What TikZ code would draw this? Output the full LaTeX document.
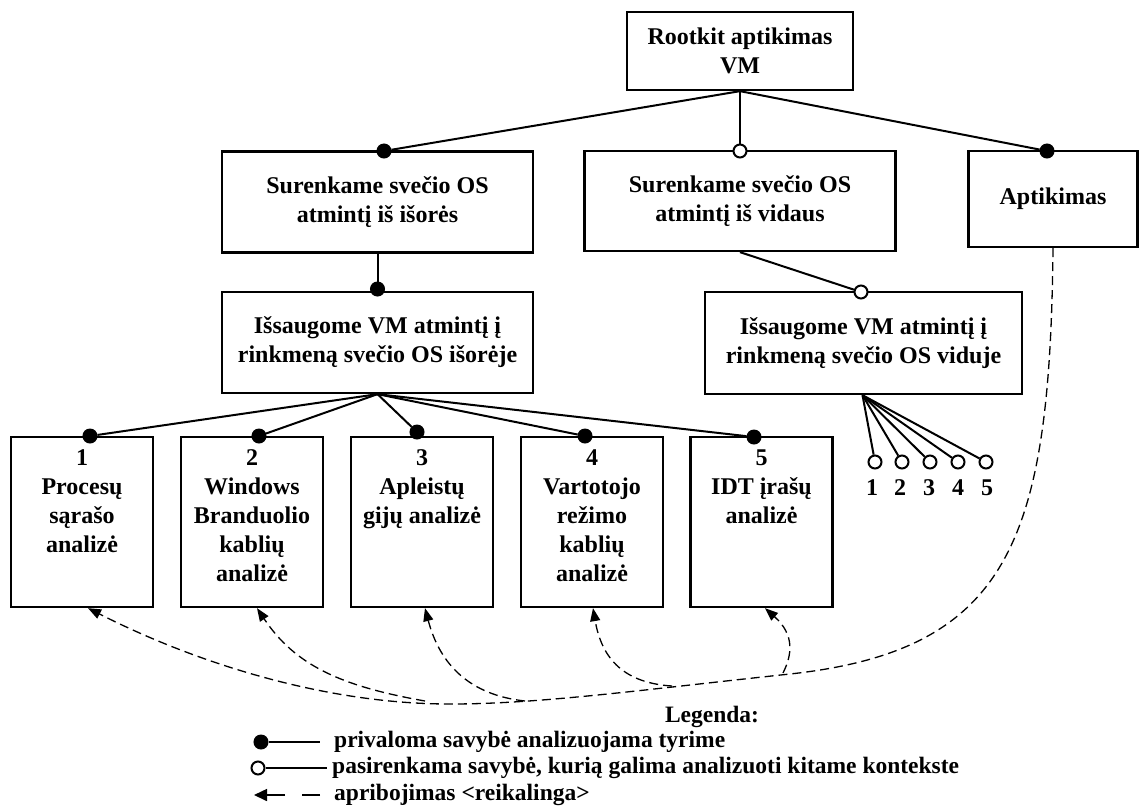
\documentclass[tikz,border=0pt]{standalone}
\usepackage{fontspec}
\setmainfont{Liberation Serif}
\usetikzlibrary{arrows.meta}
\newcommand\bxfont{\bfseries\fontsize{24}{29}\selectfont}
\newcommand\lgfont{\bfseries\fontsize{23.5}{26}\selectfont}
\newcommand\leaftext[1]{\parbox[c][144pt][t]{140pt}{\centering #1}}

\begin{document}
\begin{tikzpicture}[x=1pt,y=-1pt,
  box/.style={draw, line width=2.3pt, inner sep=0pt, align=center, font=\bxfont},
  leaf/.style={draw, line width=2.3pt, inner sep=0pt, font=\bxfont,
    minimum width=142pt, minimum height=170pt},
  link/.style={line width=2pt},
  must/.style={circle, fill=black, draw=black, line width=1pt, minimum size=14pt, inner sep=0pt},
  opt/.style={circle, fill=white, draw=black, line width=2pt, minimum size=13pt, inner sep=0pt},
  req/.style={line width=1.3pt, dash pattern=on 9pt off 5pt,
    -{Triangle[length=13pt,width=10pt]}},
  num/.style={font=\bxfont, inner sep=0pt},
  legtext/.style={font=\lgfont, anchor=west, inner sep=0pt},
]
\useasboundingbox (0,0) rectangle (1140,807);

% ---- boxes ----
\node[box, minimum width=226pt, minimum height=78pt] (root) at (740,51) {Rootkit aptikimas\\VM};
\node[box, minimum width=311pt, minimum height=101pt] (bA) at (377.5,202) {Surenkame svečio OS\\atmintį iš išorės};
\node[box, minimum width=311pt, minimum height=100pt] (bB) at (740,201) {Surenkame svečio OS\\atmintį iš vidaus};
\node[box, minimum width=169pt, minimum height=96pt] (bApt) at (1053,199) {Aptikimas};
\node[box, minimum width=311pt, minimum height=101pt] (bD) at (377.5,342.5) {Išsaugome VM atmintį į\\rinkmeną svečio OS išorėje};
\node[box, minimum width=317pt, minimum height=102pt] (bE) at (863.5,343) {Išsaugome VM atmintį į\\rinkmeną svečio OS viduje};

\node[leaf] (b1) at (82,522)    {\leaftext{1\\Procesų\\sąrašo\\analizė}};
\node[leaf] (b2) at (252,522)   {\leaftext{2\\Windows\\Branduolio\\kablių\\analizė}};
\node[leaf] (b3) at (422,522)   {\leaftext{3\\Apleistų\\gijų analizė}};
\node[leaf] (b4) at (592,522)   {\leaftext{4\\Vartotojo\\režimo\\kablių\\analizė}};
\node[leaf] (b5) at (761.5,522) {\leaftext{5\\IDT įrašų\\analizė}};

% ---- feature markers ----
\node[must] (dA) at (384,151) {};
\node[opt]  (cB) at (740,151) {};
\node[must] (dApt) at (1047,151) {};
\node[must] (dD) at (377.5,289) {};
\node[opt]  (cE) at (861,292) {};

\node[must] (d1) at (90,436) {};
\node[must] (d2) at (259,436) {};
\node[must] (d3) at (417,432) {};
\node[must] (d4) at (585,436) {};
\node[must] (d5) at (754,437) {};

\node[opt] (c1) at (875,462) {};
\node[opt] (c2) at (902,462) {};
\node[opt] (c3) at (930,462) {};
\node[opt] (c4) at (958,462) {};
\node[opt] (c5) at (986,462) {};

\node[num] (n1) at (872,488) {1};
\node[num] (n2) at (900,488) {2};
\node[num] (n3) at (929,488) {3};
\node[num] (n4) at (958,488) {4};
\node[num] (n5) at (987,488) {5};

% ---- connectors ----
\draw[link] (root.south) -- (dA);
\draw[link] (root.south) -- (cB);
\draw[link] (root.south) -- (dApt);
\draw[link] (bA.south) -- (dD);
\draw[link] (bB.south) -- (cE);
\foreach \k in {1,...,5}{
  \draw[link] (bD.south) -- (d\k);
  \draw[link] ([xshift=-1pt]bE.south) -- (c\k);
}

% ---- requires constraints ----
\coordinate (m2) at (425,701);
\coordinate (m3) at (525,701);
\coordinate (m4) at (672,686);
\coordinate (m5) at (783,673);
\draw[req] (bApt.south) .. controls (1050,540) and (1010,650) .. (790,674)
  .. controls (640,690) and (540,704) .. (450,704)
  .. controls (320,704) and (190,660) .. ([xshift=6pt]b1.south);
\draw[req] (m2) .. controls (340,686) and (295,665) .. ([xshift=5pt]b2.south);
\draw[req] (m3) .. controls (470,695) and (440,665) .. ([xshift=3pt]b3.south);
\draw[req] (m4) .. controls (625,683) and (602,660) .. ([xshift=1pt]b4.south);
\draw[req] (m5) .. controls (792,655) and (795,635) .. ([xshift=3.5pt]b5.south);

% ---- legend ----
\node[font=\lgfont, inner sep=0pt] (legtitle) at (712,717) {Legenda:};

\node[must] (lgDot) at (261,742) {};
\coordinate (lgEnd1) at (320,742);
\draw[link] (lgDot) -- (lgEnd1);
\node[legtext] (lgT1) at (334,742) {privaloma savybė analizuojama tyrime};

\node[opt] (lgCirc) at (258,768) {};
\coordinate (lgEnd2) at (327,768);
\draw[link] (lgCirc) -- (lgEnd2);
\node[legtext] (lgT2) at (332,768) {pasirenkama savybė, kurią galima analizuoti kitame kontekste};

% dashed arrow sample: two dashes, the second one carrying the tip
\coordinate (lgEnd3) at (320,795);
\coordinate (lgGap3a) at (302,795);
\coordinate (lgGap3b) at (285,795);
\coordinate (lgTip3) at (254,795);
\draw[line width=1.6pt] (lgEnd3) -- (lgGap3a);
\draw[line width=1.6pt, -{Triangle[length=13pt,width=12pt]}] (lgGap3b) -- (lgTip3);
\node[legtext] (lgT3) at (334,795) {apribojimas <reikalinga>};
\end{tikzpicture}
\end{document}
